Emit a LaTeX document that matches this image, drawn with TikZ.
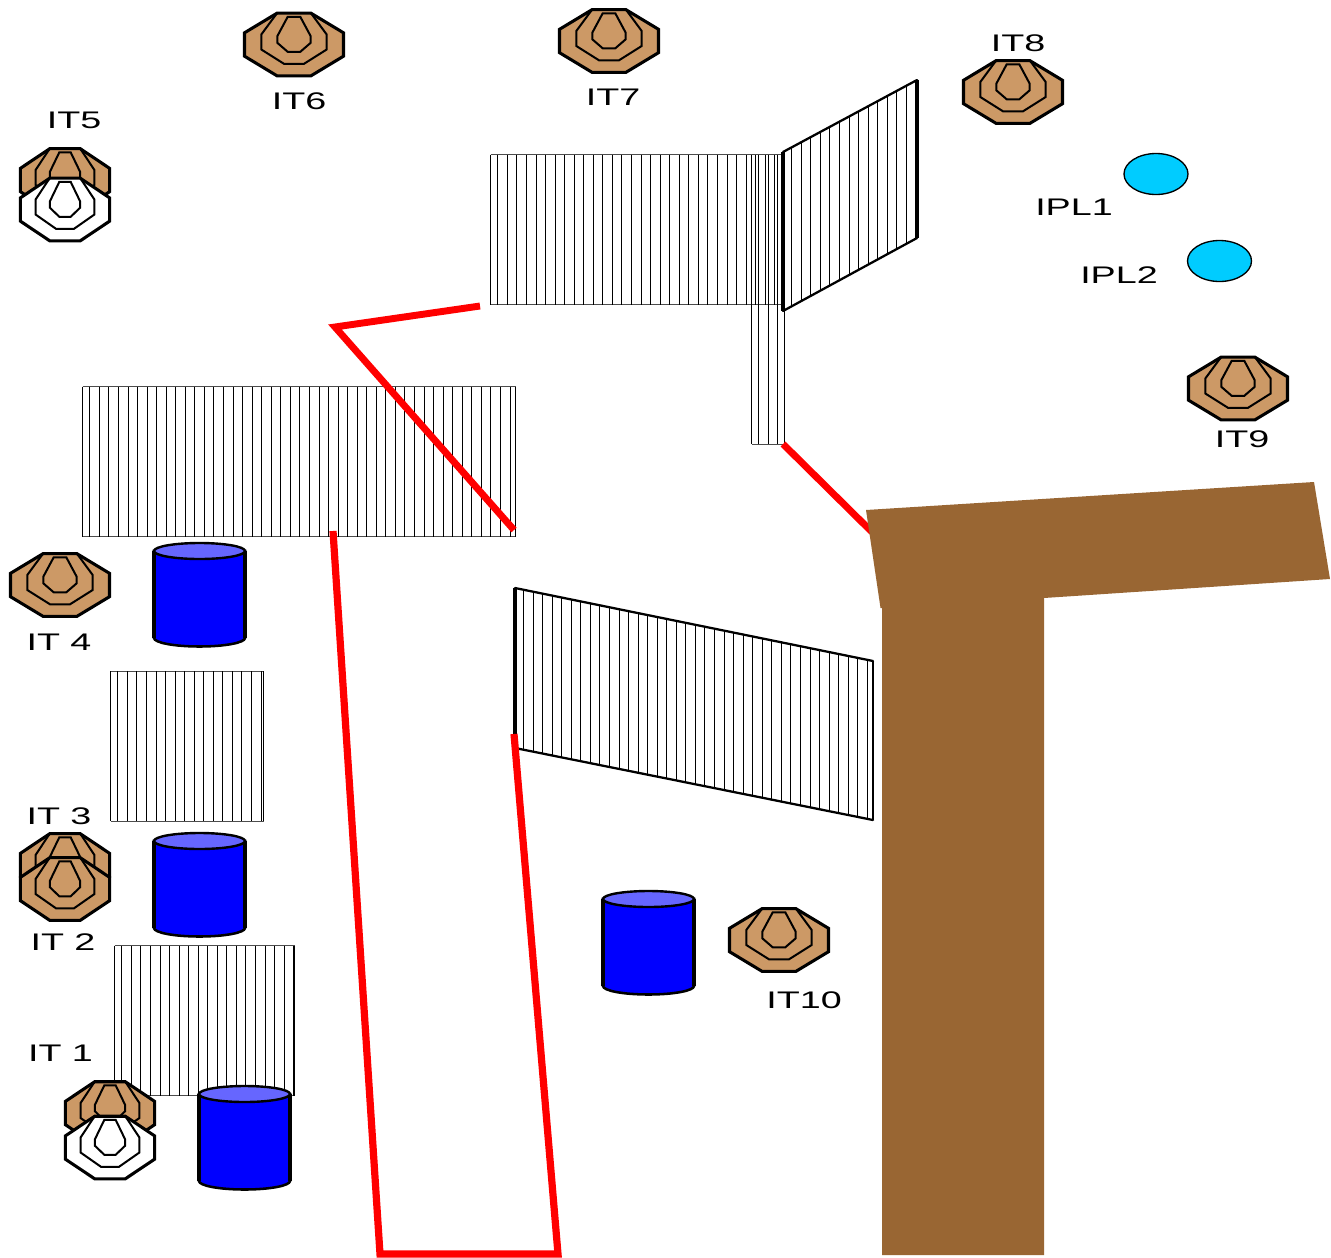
\documentclass[tikz,border=0pt]{standalone}
\usepackage{fontspec}
\setmainfont{Liberation Sans}
\definecolor{earth}{HTML}{996633}
\definecolor{tan}{HTML}{CC9966}
\definecolor{drumtop}{HTML}{6666FF}
\definecolor{pond}{HTML}{00CCFF}
\tikzset{
  px/.style={x=0.75pt,y=-0.75pt},
  lbl/.style={font=\fontsize{18}{20}\selectfont,xscale=1.57,inner sep=0pt,anchor=center},
  hatch/.style={line width=0.75pt,black},
  thin edge/.style={line width=0.6pt,black!70},
  thick edge/.style={line width=1.7pt,black,line cap=round,line join=round},
  wall/.style={line width=5.2pt,red,line join=miter},
}
% target: x, y, width/100, fill
\newcommand{\tgt}[4]{%
  \begin{scope}[shift={(#1,#2)},xscale=#3,line join=miter]
    \draw[fill=#4,line width=2.3pt] (-17,-31.3)--(17,-31.3)--(49.5,-11.7)--(49.5,11.7)--(17,31.3)--(-17,31.3)--(-49.5,11.7)--(-49.5,-11.7)--cycle;
    \draw[line width=1.5pt] (-17,-31.3)--(-32.7,-10)--(-32.7,5)--(-10,19.3)--(10,19.3)--(32.7,5)--(32.7,-10)--(17,-31.3);
    \draw[line width=1.5pt] (-6.3,-27.7)--(6.3,-27.7)--(16.7,-8.3)--(16.7,-1.7)--(6.3,7.3)--(-6.3,7.3)--(-16.7,-1.7)--(-16.7,-8.3)--cycle;
  \end{scope}}
% hatched rectangle: left, right, top, bottom
\newcommand{\hrect}[4]{%
  \draw[thin edge] (#1,#3)--(#2,#3) (#1,#4)--(#2,#4);
  \draw[hatch] (#1,#3)--(#1,#4) (#2,#3)--(#2,#4);
  \pgfmathsetmacro{\xa}{#1+7.3}\pgfmathsetmacro{\xb}{#1+16.85}
  \foreach \xx in {\xa,\xb,...,#2}{\draw[hatch] (\xx,#3)--(\xx,#4);}}
% drum: left, top
\newcommand{\drum}[2]{%
  \begin{scope}[shift={(#1,#2)}]
    \draw[fill=blue,line width=1.9pt] (0,8) -- (0,95) arc[start angle=180,end angle=360,x radius=45.5,y radius=-8.5] -- (91,8) -- cycle;
    \draw[line width=2.4pt] (0,8)--(0,95) (91,8)--(91,95);
    \draw[fill=drumtop,line width=1.8pt] (45.5,8) ellipse[x radius=45.5,y radius=8];
  \end{scope}}
\begin{document}
\begin{tikzpicture}[px]
\useasboundingbox (0,0) rectangle (1331,1257);
% hatched fences
\hrect{490.5}{783.5}{154.5}{304.5}
\hrect{751.5}{784}{154.5}{444}
\hrect{82.5}{515.5}{386.5}{536.5}
\hrect{110.5}{263.5}{671}{821}
\hrect{114.5}{294.5}{945.5}{1095.5}
% skewed fence, upper right
\foreach \xx in {791.7,801.25,...,916}{
  \pgfmathsetmacro{\ya}{152-(\xx-783)/134*72}
  \pgfmathsetmacro{\yb}{311-(\xx-783)/134*73}
  \draw[hatch] (\xx,\ya)--(\xx,\yb);}
\draw[thick edge] (783,152)--(917,80) (783,311)--(917,238);
\draw[line width=2.8pt] (783,152)--(783,311) (917,80)--(917,238);
% skewed fence, middle
\foreach \xx in {523.5,533.05,...,872}{
  \pgfmathsetmacro{\ya}{588+(\xx-515)/358*73}
  \pgfmathsetmacro{\yb}{748+(\xx-515)/358*72}
  \draw[hatch] (\xx,\ya)--(\xx,\yb);}
\draw[thick edge] (515,588)--(873,661) (515,748)--(873,820);
\draw[line width=2.6pt] (515,588)--(515,748);
\draw[line width=1.7pt] (873,661)--(873,820);
% red walls
\draw[wall] (480,306)--(335,327)--(514,530);
\draw[wall,line width=5.4pt] (333,531)--(380,1254)--(558,1254)--(514,734);
\draw[wall] (783,444)--(872,532);
% road
\fill[earth] (866,510)--(1314,482)--(1330,579)--(1044,598)--(1044,1255)--(882,1255)--(882,608)--(880.5,608)--cycle;
% drums
\drum{154}{543}
\drum{154}{833}
\drum{199}{1086}
\drum{603}{891}
% ponds
\draw[fill=pond,line width=1pt] (1156,174) ellipse[x radius=32,y radius=20.5];
\draw[fill=pond,line width=1pt] (1219.5,261) ellipse[x radius=32,y radius=20.5];
% targets
\tgt{294}{44.5}{1}{tan}
\tgt{609}{41}{1}{tan}
\tgt{1013}{92}{1}{tan}
\tgt{1238}{388.5}{1}{tan}
\tgt{779}{940}{1}{tan}
\tgt{60}{585}{1}{tan}
\tgt{65}{865}{.9}{tan}
\tgt{65}{889}{.9}{tan}
\tgt{65}{180}{.9}{tan}
\tgt{65}{209.5}{.9}{white}
\tgt{110}{1113}{.9}{tan}
\tgt{110}{1147.5}{.9}{white}
% labels
\node[lbl] (it5) at (74,120) {IT5};
\node[lbl] (it6) at (299,101) {IT6};
\node[lbl] (it7) at (613,97) {IT7};
\node[lbl] (it8) at (1018,43) {IT8};
\node[lbl] (it9) at (1242,439) {IT9};
\node[lbl] (ipl1) at (1074,207) {IPL1};
\node[lbl] (ipl2) at (1119,275) {IPL2};
\node[lbl] (it4) at (59,642) {IT 4};
\node[lbl] (it3) at (59,816) {IT 3};
\node[lbl] (it2) at (63,942) {IT 2};
\node[lbl] (it1) at (60.5,1053) {IT 1};
\node[lbl] (it10) at (804,1000) {IT10};
\end{tikzpicture}
\end{document}
